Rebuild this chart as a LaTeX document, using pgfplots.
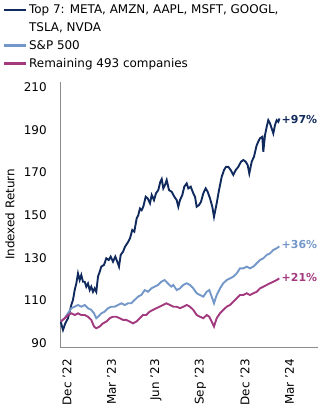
\documentclass[border=0pt]{standalone}
\usepackage{fontspec}
\setmainfont{DejaVu Sans}
\usepackage{pgfplots}
\pgfplotsset{compat=1.18}
\usepackage{pgfplotstable}
\definecolor{cTop}{RGB}{16,42,94}
\definecolor{cSP}{RGB}{115,151,200}
\definecolor{cRem}{RGB}{163,58,128}
\definecolor{cAx}{RGB}{140,140,140}

\pgfplotstableread{
px v
60.7 100
63 96.1
65.3 99.2
68 101.6
69.7 104.7
71.3 107.8
73 110.2
74.7 114.8
76.3 117.9
78 122.6
79.7 119.5
81.3 121.9
83 118.7
84.7 118.7
86.3 116.4
88 117.9
89.7 114.8
91.3 116.4
93 114
94.7 115.6
96.3 114
98 121.1
99.7 123.4
101.3 125.8
104 126.6
106.3 129.7
108.7 128.9
110.7 130.5
113 128.1
115.3 130.5
117.3 128.1
119 125.8
120.7 131.3
123 132.8
125 135.1
128.3 137.5
130 139.1
132.3 143
134.3 142.2
136.7 148.5
138.3 150
140 153.1
141.7 152.3
143.3 153.9
145.7 158.6
147.7 157.8
150 155.5
151.7 159.4
154 157
156 160.2
158.3 161.7
160.3 165.6
161.7 166.9
163.3 162.5
165 164.1
166.7 166.4
169 161.7
171.7 160.9
174.3 158.6
176.7 157
178.3 153.9
180 157
182.3 159.4
184.3 163.3
186.7 164.8
188.3 162.5
190.7 163.3
193.3 160.2
195 158.6
196.7 153.9
199 154.7
201 156.2
203.3 160.2
205.7 162.5
207.7 160.9
210 157.8
212.3 153.9
214 149.2
216.7 155.5
219 161.7
221.7 167.9
224 171.1
226 172.6
228.3 172.6
230.7 171.1
233.3 168.8
235.7 171.1
238.3 172.6
241 175
243.3 175.8
245.7 175
247.7 173.4
249.3 169.5
251.7 175
254 177.4
256.7 182.8
258.3 184.4
260 186
262.3 186.7
263.3 179.7
265 187.5
266.7 191.4
268.3 194.5
270 193
271.7 190.6
273.3 188.3
275 192.2
276.7 194.5
278.3 193.7
279.5 195.3
}\topseven

\pgfplotstableread{
px v
60.7 100
64.7 101.6
68 103.9
71.3 106.3
74.7 107
78 107.8
81.3 107
84.7 107.8
88 106.3
91.3 105.5
94 103.9
96.3 101.6
98 102.3
101.3 103.9
104.7 104.7
108 106.3
111.3 107
114.7 107
118 107.8
121.3 108.6
124.7 107.8
128 108.6
131.3 108.6
134.7 110.2
138 111.7
141.3 112.5
144.7 114.8
148 114
151.3 115.6
154.7 116.4
158 117.2
161.3 118.7
164.7 119.5
168 117.9
171.3 116.4
173.3 117.2
176.7 114.8
180 115.6
183.3 117.2
186.7 118
190 117.2
193.3 115.6
196.7 113.3
200 112.5
203.3 111.7
206.7 114
209.3 114.8
211.7 111.7
214 108.6
216.7 112.5
220 115.6
223.3 118
226.7 119.5
230 120.3
233.3 121.1
236.7 122.6
240 125
243.3 125
246.7 125.8
250 125
253.3 125.8
256.7 127.4
260 128.9
263.3 129.7
266.7 131.3
270 132
273.3 133.6
276.7 134.4
279.3 135.3
}\spx

\pgfplotstableread{
px v
60.7 100
64.7 101.6
68 103.1
71.3 103.9
74.7 103.1
78 103.9
81.3 103.1
84.7 103.1
88 102.3
91.3 100.8
94 97.7
96.3 96.9
99.7 97.7
103 99.2
106.3 100
109.7 101.6
113 102.3
116.3 102.3
119.7 101.6
123 100.8
126.3 100.8
129.7 100
133 99.2
136.3 100
139.7 101.6
143 103.1
146.3 103.1
149.7 104.7
153 105.5
156.3 106.3
159.7 107
163 107.8
166.3 108.6
170 107.8
173.3 107
176.7 107
180 106.3
183.3 107
186.7 107.8
190 107
193.3 105.5
196.7 103.1
200 102.3
203.3 101.6
206.7 103.1
209.3 102.3
211.7 100
214 97.7
216.7 101.6
220 103.9
223.3 105.5
226.7 107
230 107.8
233.3 109.4
236.7 110.9
240 112.5
243.3 112.5
246.7 113.3
250 112.5
253.3 113.3
256.7 114
260 115.6
263.3 116.4
266.7 117.2
270 118
273.3 118.7
276.7 119.5
279.3 120.3
}\rem

\begin{document}
\begin{tikzpicture}
\begin{axis}[
  at={(60bp,65bp)}, anchor=south west,
  scale only axis, width=258bp, height=265bp,
  font=\fontsize{12}{14.5}\selectfont,
  xmin=60, xmax=318, ymin=88.1, ymax=212.4,
  axis lines=left, axis line style={draw=cAx, line width=0.8bp, -},
  tick style={draw=none},
  xtick={67,111.5,156,200.5,245,289.5},
  xticklabels={Dec '22,Mar '23,Jun '23,Sep '23,Dec '23,Mar '24},
  xticklabel style={rotate=90, anchor=east, inner sep=0pt, xshift=-10bp},
  ytick={90,110,130,150,170,190,210},
  yticklabel style={anchor=east, inner sep=0pt, xshift=-11bp},
  /pgf/number format/assume math mode=true,
  ylabel={Indexed Return},
  ylabel style={at={(axis description cs:-0.194,0.5)}, anchor=center},
  clip=false,
  legend style={at={(axis description cs:-0.222,1.30)}, anchor=north west,
    draw=none, fill=none, inner sep=0pt, row sep=3.5bp,
    cells={anchor=west}},
  legend cell align=left,
  legend image code/.code={\draw[#1, line width=2.2bp] (0bp,0bp) -- (22bp,0bp);},
]
\addplot[cTop, line width=1.9bp] table[x=px,y=v]{\topseven};
\addlegendentry{Top 7: META, AMZN, AAPL, MSFT, GOOGL,}
\addlegendimage{empty legend}
\addlegendentry{TSLA, NVDA}
\addplot[cSP, line width=1.9bp] table[x=px,y=v]{\spx};
\addlegendentry{S\&P 500}
\addplot[cRem, line width=1.9bp] table[x=px,y=v]{\rem};
\addlegendentry{Remaining 493 companies}
\node[anchor=west, text=cTop, font=\fontsize{11}{13}\bfseries, inner sep=0pt] at (axis cs:281.5,195) {+97\%};
\node[anchor=west, text=cSP, font=\fontsize{11}{13}\bfseries, inner sep=0pt] at (axis cs:281.5,136) {+36\%};
\node[anchor=west, text=cRem, font=\fontsize{11}{13}\bfseries, inner sep=0pt] at (axis cs:281.5,120.5) {+21\%};
\end{axis}
\pgfresetboundingbox
\useasboundingbox (0,0) rectangle (321bp,412bp);
\end{tikzpicture}
\end{document}
